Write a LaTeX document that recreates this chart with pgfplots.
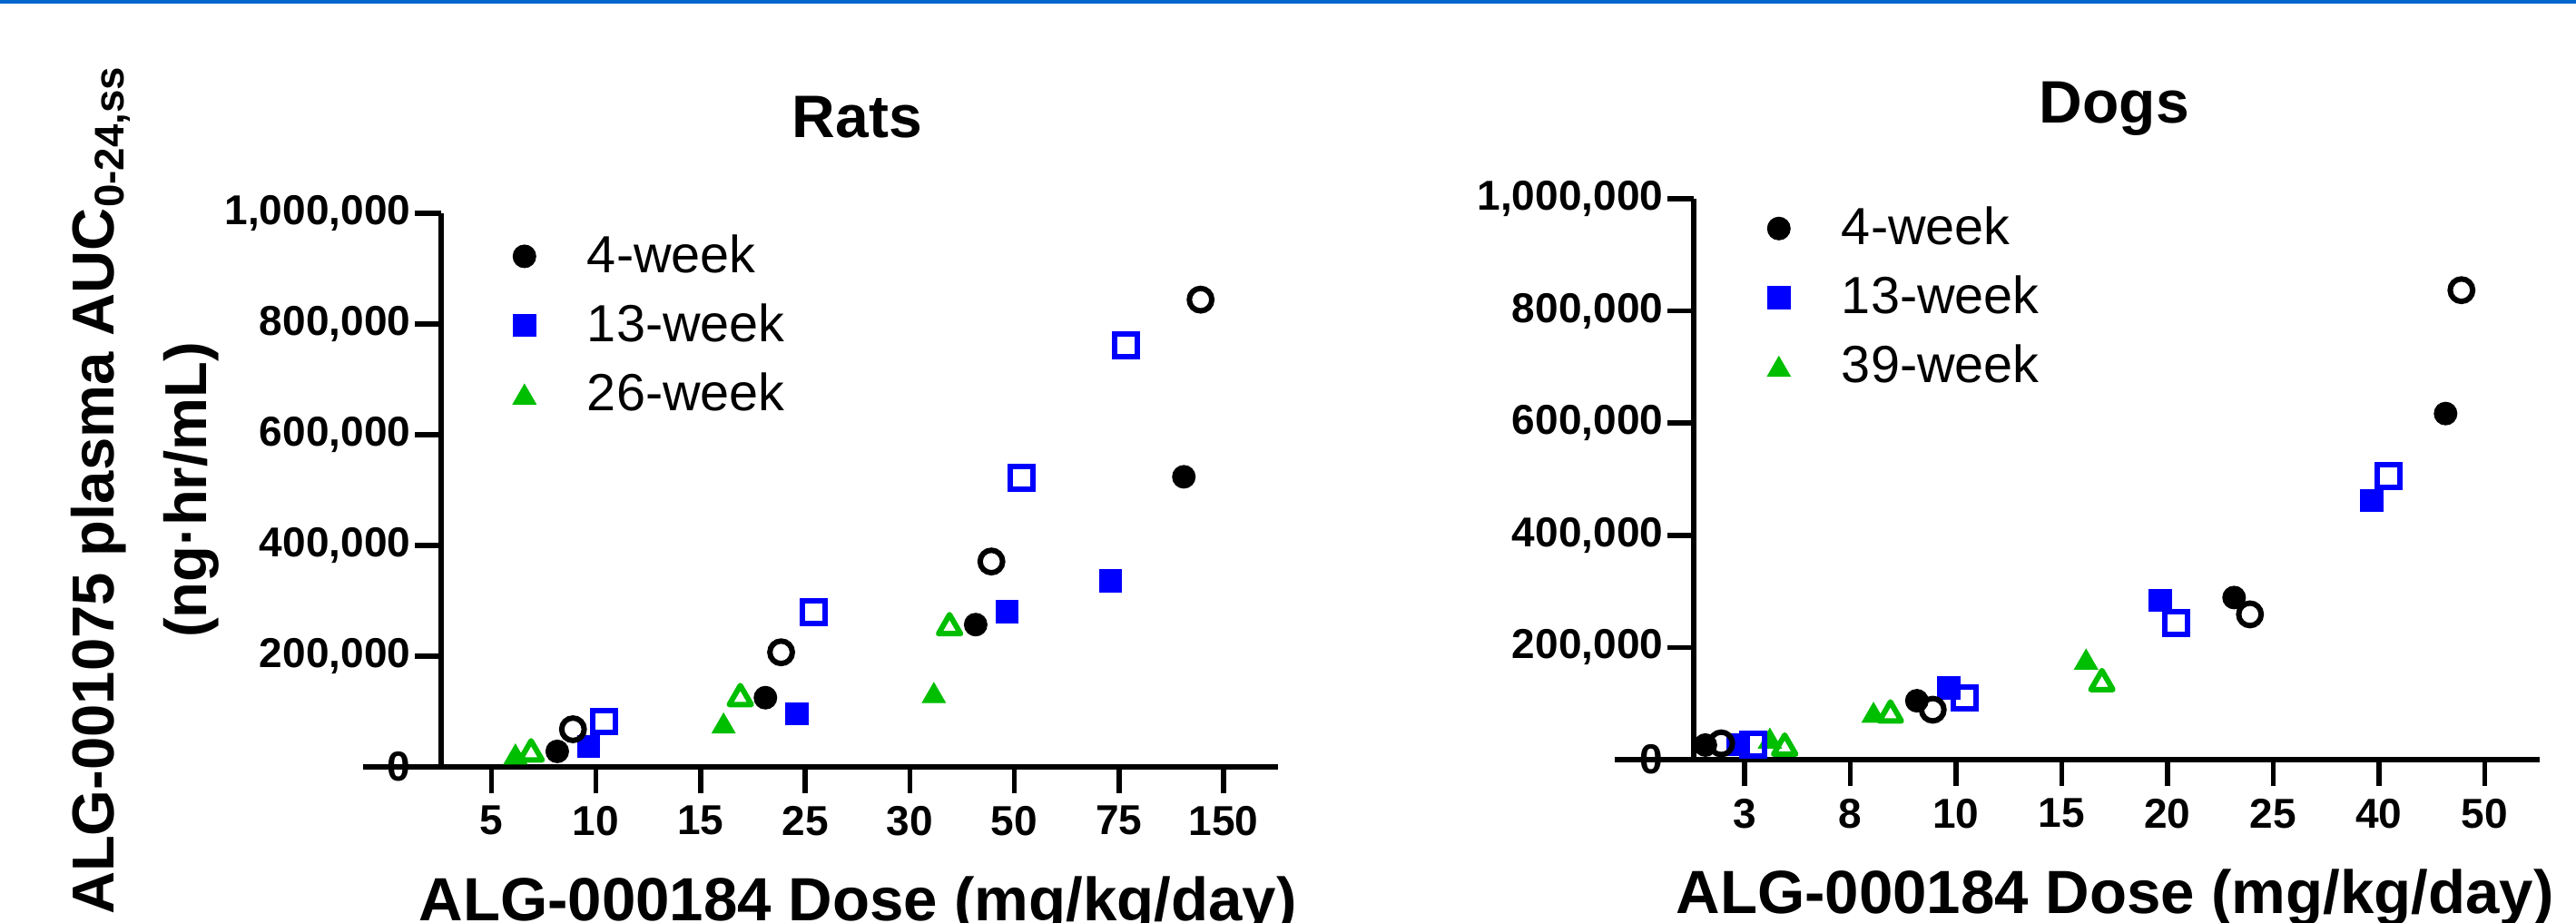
\documentclass[border=0pt]{standalone}
\usepackage{fontspec}
\setmainfont{Liberation Sans}
\usepackage{pgfplots}
\pgfplotsset{compat=1.18}

\definecolor{pblue}{RGB}{0,0,255}
\definecolor{pgreen}{RGB}{0,190,0}
\definecolor{topbar}{RGB}{0,102,204}

% 1 px of the reference = 0.25pt
\pgfplotsset{
  prism/.style={
    scale only axis,
    only marks,
    axis lines*=left,
    axis line style={line width=1.35pt},
    tick style={line width=1.4pt, black},
    tick align=outside,
    major tick length=7.25pt,
    xmin=0.52, xmax=8.52, ymin=0, ymax=1000000,
    xtick={1,...,8},
    ytick={0,200000,400000,600000,800000,1000000},
    scaled y ticks=false,
    clip=false,
    /pgf/number format/assume math mode=true,
    ticklabel style={font=\fontsize{11.5}{13}\selectfont\bfseries},
    yticklabel style={/pgf/number format/fixed, /pgf/number format/1000 sep={,}, inner xsep=1pt},
    every axis title/.style={at={(0.497,1)}, anchor=base, yshift=20.75pt,
      font=\fontsize{16.5}{18}\selectfont\bfseries},
    every axis x label/.style={at={(0.498,0)}, anchor=base, yshift=-42.25pt,
      font=\fontsize{16.8}{18}\selectfont\bfseries},
    xlabel={ALG-000184 Dose (mg/kg/day)},
    legend image code/.code={\draw[##1] plot coordinates {(0pt,0pt)};
      \path[draw=none, fill=none] (-5pt,-5pt) rectangle (15.3pt,5pt);},
    legend style={draw=none, fill=none, inner sep=0pt, row sep=3pt,
      anchor=north west, font=\fontsize{14.4}{16}\selectfont,
      cells={anchor=west, text height=10.5pt, text depth=0pt, inner sep=0pt}},
  },
  fcirc/.style={mark=*, mark size=3.1pt, mark options={draw=black, fill=black, line width=0.3pt}},
  ocirc/.style={mark=o, mark size=3.1pt, mark options={draw=black, line width=1.5pt}},
  fsq/.style={mark=square*, mark size=3.05pt, mark options={draw=pblue, fill=pblue, line width=0.3pt}},
  osq/.style={mark=square, mark size=3.1pt, mark options={draw=pblue, line width=1.5pt}},
  ftri/.style={mark=triangle*, mark size=3.6pt, mark options={draw=pgreen, fill=pgreen, line width=0.3pt, yshift=-0.9pt}},
  otri/.style={mark=triangle, mark size=3.5pt, mark options={draw=pgreen, line width=1.5pt, line join=round, yshift=-0.9pt}},
}

\begin{document}
\begin{tikzpicture}
\useasboundingbox (0,0) rectangle (709.5pt,254.25pt);
\fill[topbar] (0,253.25pt) rectangle (709.5pt,254.25pt);

% ---------------- Rats ----------------
\begin{axis}[prism,
  at={(121.5pt,43pt)}, anchor=south west,
  width=230.5pt, height=152.5pt,
  xticklabels={5,10,15,25,30,50,75,150},
  title={Rats},
  ylabel={ALG-001075 plasma AUC\textsubscript{0-24,ss}\\(ng·hr/mL)},
  every axis y label/.style={at={(-0.3536,0.5)}, anchor=center, rotate=90,
    align=center, font=\fontsize{16.3}{25.5}\selectfont\bfseries},
  legend style={at={(0.077,0.976)}},
]
\addplot[fcirc] coordinates {(1.63,28000)(3.62,125000)(5.63,257000)(7.62,524000)};
\addlegendentry{4-week}
\addplot[fsq] coordinates {(1.93,37000)(3.92,96000)(5.93,280000)(6.92,336000)};
\addlegendentry{13-week}
\addplot[ftri] coordinates {(1.23,23000)(3.22,79000)(5.23,134000)};
\addlegendentry{26-week}
\addplot[ocirc, forget plot] coordinates {(1.78,68000)(3.77,207000)(5.78,371000)(7.78,844000)};
\addplot[osq, forget plot] coordinates {(2.08,82000)(4.08,280000)(6.07,522000)(7.07,761000)};
\addplot[otri, forget plot] coordinates {(1.38,30000)(3.38,130000)(5.38,258000)};
\draw[line width=1.35pt] (rel axis cs:0,0) -- ++(-6.5pt,0);
\end{axis}

% ---------------- Dogs ----------------
\begin{axis}[prism,
  at={(466.5pt,45pt)}, anchor=south west,
  width=233pt, height=154.5pt,
  xticklabels={3,8,10,15,20,25,40,50},
  title={Dogs},
  legend style={at={(0.0783,1.0)}},
]
\addplot[fcirc] coordinates {(0.63,26000)(2.63,105000)(5.63,289000)(7.63,617000)};
\addlegendentry{4-week}
\addplot[fsq] coordinates {(0.94,27000)(2.93,128000)(4.93,284000)(6.93,462000)};
\addlegendentry{13-week}
\addplot[ftri] coordinates {(1.24,38000)(2.22,84000)(4.23,179000)};
\addlegendentry{39-week}
\addplot[ocirc, forget plot] coordinates {(0.78,29000)(2.78,89000)(5.78,259000)(7.78,837000)};
\addplot[osq, forget plot] coordinates {(1.08,27000)(3.08,110000)(5.08,244000)(7.09,506000)};
\addplot[otri, forget plot] coordinates {(1.38,27000)(2.38,86000)(4.38,142000)};
\draw[line width=1.35pt] (rel axis cs:0,0) -- ++(-6.5pt,0);
\end{axis}
\end{tikzpicture}
\end{document}
